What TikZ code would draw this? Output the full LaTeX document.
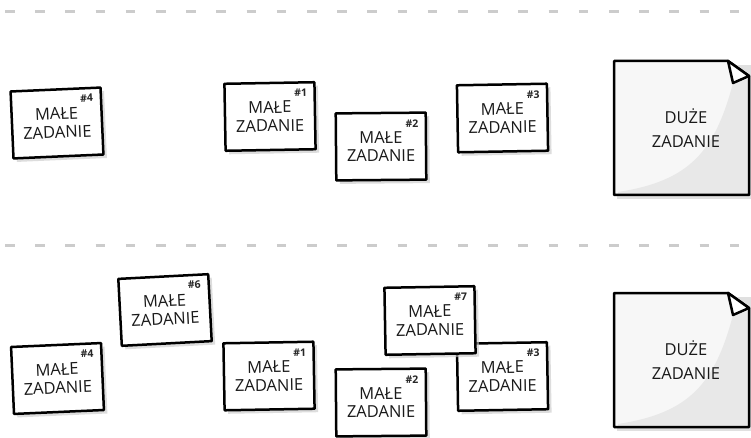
\documentclass[tikz,border=0pt]{standalone}
\usepackage{fontspec}
\setmainfont{Open Sans}
\usetikzlibrary{calc,shadows}
\tikzset{
  task/.style={draw=black, line width=2.5pt, fill=white, line join=round,
    minimum width=90pt, minimum height=67pt, inner sep=0pt, align=center,
    text=black!90, font=\fontsize{16.5}{18.5}\selectfont,
    drop shadow={shadow xshift=3.5pt, shadow yshift=-3.5pt, fill=black!22, opacity=0.6}},
  num/.style={inner sep=0pt, text=black!85, font=\fontsize{10.5}{11}\selectfont\bfseries},
  dashline/.style={draw=black!20, line width=3pt, dash pattern=on 9.5pt off 20.7pt},
  docline/.style={draw=black, line width=2.5pt, line join=round},
  doctext/.style={align=center, inner sep=0pt, text=black!90, font=\fontsize{16.5}{24}\selectfont}
}
\newcommand\maletask[4]{%
  \node[task, rotate=#3] (#1) at (#2) {MAŁE\\ZADANIE};
  \node[num, rotate=#3] (#1n) at ($(#1.north east)+(-15,12)$) {\#{}#4};}
\newcommand\duzedoc[2]{%
  \begin{scope}[shift={(0,#2)}]
    \fill[black!12] (617,4) -- (752,4) -- (752,138) -- (617,138) -- cycle;
    \path[fill=black!3] (614,0) -- (728,0) -- (749,15) -- (749,134) -- (614,134) -- cycle;
    \begin{scope}
      \clip (614,0) -- (728,0) -- (749,15) -- (749,134) -- (614,134) -- cycle;
      \fill[black!9] (733,22) .. controls (715,90) and (690,120) .. (618,131)
        -- (618,140) -- (760,140) -- (760,15) -- cycle;
    \end{scope}
    \draw[docline] (614,0) -- (728,0) -- (749,15) -- (749,134) -- (614,134) -- cycle;
    \draw[docline, fill=white] (728,0) -- (733,22) -- (749,15) -- cycle;
    \node[doctext] (#1) at (686,67) {DUŻE\\ZADANIE};
  \end{scope}}
\begin{document}
\begin{tikzpicture}[x=1pt, y=-1pt]
  \useasboundingbox (0,0) rectangle (751,438);
  \fill[white] (0,0) rectangle (751,438);
  % separators
  \coordinate (s1a) at (5,12);  \coordinate (s1b) at (751,12);
  \coordinate (s2a) at (5,245); \coordinate (s2b) at (751,245);
  \draw[dashline] (s1a) -- (s1b);
  \draw[dashline] (s2a) -- (s2b);
  % row 1
  \maletask{ra4}{57,123}{2.5}{4}
  \maletask{ra1}{270,116.5}{1}{1}
  \maletask{ra2}{381,146.5}{0.5}{2}
  \maletask{ra3}{502.5,118}{1}{3}
  \duzedoc{rabig}{61}
  % row 2
  \maletask{rb6}{165,310}{3}{6}
  \maletask{rb4}{57.5,378.5}{2.5}{4}
  \maletask{rb1}{269,376}{1}{1}
  \maletask{rb3}{502.5,376.5}{1}{3}
  \maletask{rb7}{430,320.5}{1}{7}
  \maletask{rb2}{381,402.5}{0.5}{2}
  \duzedoc{rbbig}{293}
\end{tikzpicture}
\end{document}
